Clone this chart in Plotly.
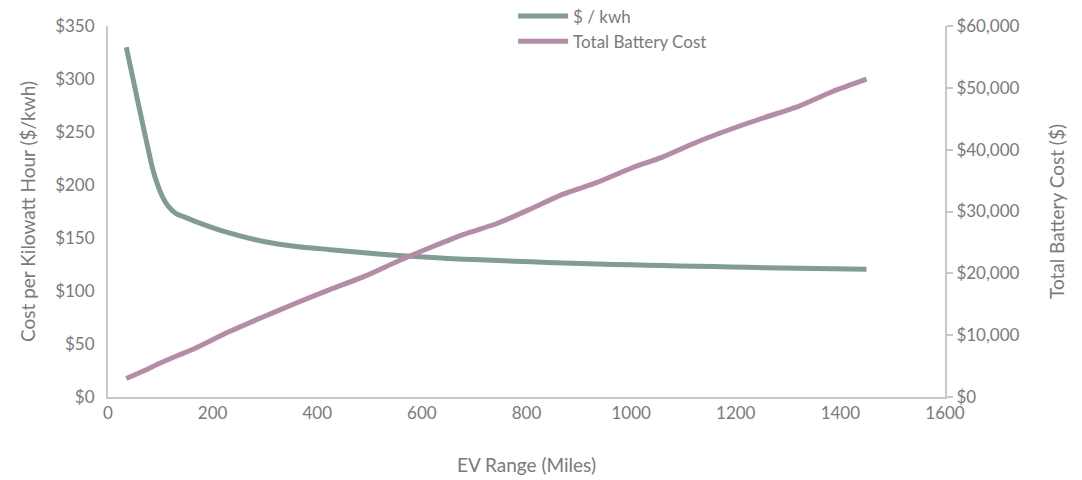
import plotly.graph_objects as go

ev_range = [35, 60, 85, 95, 105, 115, 130, 150, 165, 230, 295, 360, 425, 490, 555, 620,
            680, 745, 810, 870, 935, 1000, 1060, 1125, 1190, 1255, 1320, 1385, 1450]
cost_per_kwh = [330, 272, 216, 200, 188, 180, 173, 169, 166, 155, 147, 142, 139, 136,
                133.5, 131.5, 130, 128.8, 127.5, 126.5, 125.5, 124.7, 124, 123.3, 122.7,
                122, 121.5, 121, 120.5]
cost_range = [35, 70, 100, 130, 165, 230, 295, 360, 425, 490, 555, 620, 680, 745,
              810, 870, 935, 1000, 1060, 1125, 1190, 1255, 1320, 1385, 1450]
total_cost = [3000, 4300, 5500, 6600, 7800, 10500, 12900, 15200, 17400, 19500, 22000,
              24300, 26300, 28100, 30500, 32800, 34700, 37000, 38800, 41200, 43300,
              45200, 47000, 49400, 51400]

FONT = "Lato, 'Open Sans', sans-serif"
TXT = "#7a7a7a"
AX = "#c8c8c8"

fig = go.Figure()
fig.add_trace(go.Scatter(x=ev_range, y=cost_per_kwh, name="$ / kwh", mode="lines",
                         line=dict(color="#819b96", width=5, shape="spline", smoothing=0.6)))
fig.add_trace(go.Scatter(x=cost_range, y=total_cost, name="Total Battery Cost", mode="lines",
                         yaxis="y2",
                         line=dict(color="#b48ca6", width=5, shape="spline", smoothing=0.6)))

fig.update_layout(
    width=1074, height=472,
    margin=dict(l=100, r=137, t=18, b=83, autoexpand=False),
    plot_bgcolor="white", paper_bgcolor="white",
    font=dict(family=FONT, size=17, color=TXT),
    showlegend=True,
    legend=dict(x=0.484, y=1.074, xanchor="left", yanchor="top",
                font=dict(size=17, color=TXT),
                bgcolor="rgba(0,0,0,0)", tracegroupgap=0, itemwidth=50),
    xaxis=dict(range=[0, 1600], dtick=200, tick0=0, showgrid=False, zeroline=False,
               showline=True, linecolor=AX, linewidth=2, ticks="",
               tickfont=dict(size=17, color=TXT),
               title=dict(text="EV Range (Miles)", font=dict(size=19, color=TXT), standoff=36)),
    yaxis=dict(range=[0, 350], dtick=50, showgrid=False, zeroline=False,
               showline=True, linecolor=AX, linewidth=2, ticks="outside", ticklen=8,
               tickcolor="rgba(0,0,0,0)",
               tickprefix="$", tickfont=dict(size=17, color=TXT),
               title=dict(text="Cost per Kilowatt Hour ($/kwh)", font=dict(size=19, color=TXT), standoff=14)),
    yaxis2=dict(range=[0, 60000], dtick=10000, overlaying="y", side="right",
                showgrid=False, zeroline=False, showline=True, linecolor=AX, linewidth=2,
                ticks="outside", ticklen=6, tickcolor=AX, tickwidth=2,
                tickprefix="$", tickformat=",", tickfont=dict(size=17, color=TXT),
                title=dict(text="Total Battery Cost ($)", font=dict(size=19, color=TXT), standoff=32)),
)

fig.write_html("out.html")
